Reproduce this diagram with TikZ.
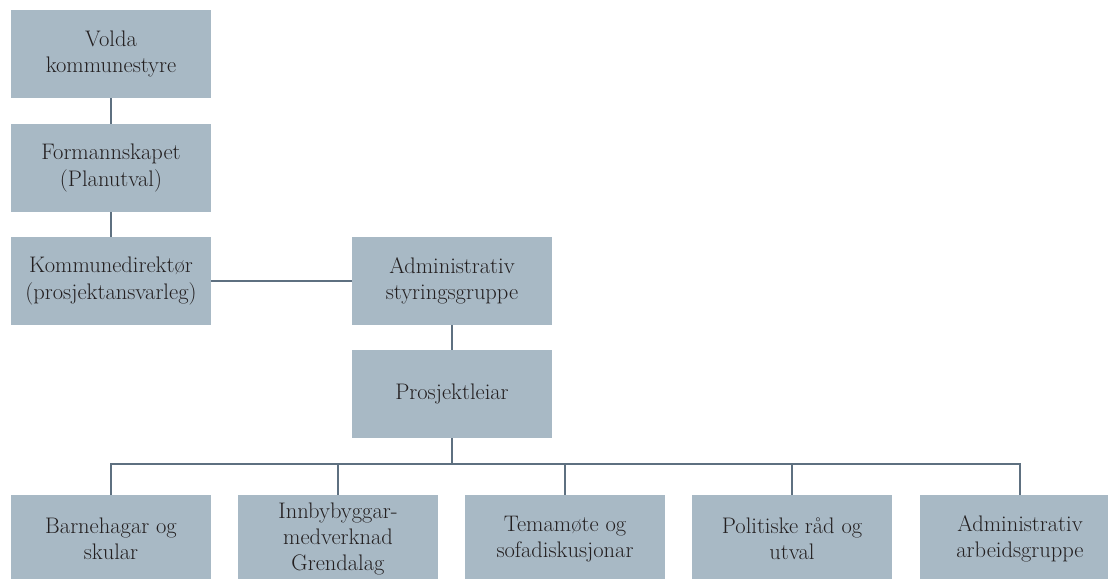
\documentclass[tikz,border=0pt]{standalone}
\usepackage{tikz}
\definecolor{boxfill}{HTML}{A8B9C5}
\definecolor{linecol}{HTML}{5E7080}
\definecolor{textcol}{HTML}{231F20}
\tikzset{
	orgbox/.style={rectangle, fill=boxfill, draw=none, text=textcol, align=center,
		minimum width=5cm, minimum height=2.2cm, inner sep=0pt,
		font=\fontsize{16}{18.8}\selectfont},
	link/.style={draw=linecol, line width=1.6pt}
}

\begin{document}
\begin{tikzpicture}[x=0.025cm, y=-0.025cm]
				\useasboundingbox (0,0) rectangle (1108,578);
				% styring
				\node[orgbox] (volda) at (111,54) {Volda\\kommunestyre};
				\node[orgbox] (form) at (111,168) {Formannskapet\\(Planutval)};
				\node[orgbox] (komdir) at (111,281) {Kommunedirektør\\(prosjektansvarleg)};
				\node[orgbox] (admstyr) at (452,281) {Administrativ\\styringsgruppe};
				\node[orgbox] (pleiar) at (452,394) {Prosjektleiar};
				% grupper
				\node[orgbox] (barn) at (111,539) {Barnehagar og\\skular};
				\node[orgbox] (innb) at (338,539) {Innbybyggar-\\medverknad\\Grendalag};
				\node[orgbox] (tema) at (565,539) {Temamøte og\\sofadiskusjonar};
				\node[orgbox] (polit) at (792,539) {Politiske råd og\\utval};
				\node[orgbox] (admarb) at (1020,539) {Administrativ\\arbeidsgruppe};
				\coordinate (bus) at (452,464);
				\draw[link] (volda) -- (form);
				\draw[link] (form) -- (komdir);
				\draw[link] (komdir) -- (admstyr);
				\draw[link] (admstyr) -- (pleiar);
				\draw[link] (pleiar) -- (bus);
				\draw[link] (barn.north) -- (barn.north |- bus) -- (admarb.north |- bus) -- (admarb.north);
				\foreach \g in {innb, tema, polit} {
					\draw[link] (\g.north) -- (\g.north |- bus);
				}
			\end{tikzpicture}
\end{document}
